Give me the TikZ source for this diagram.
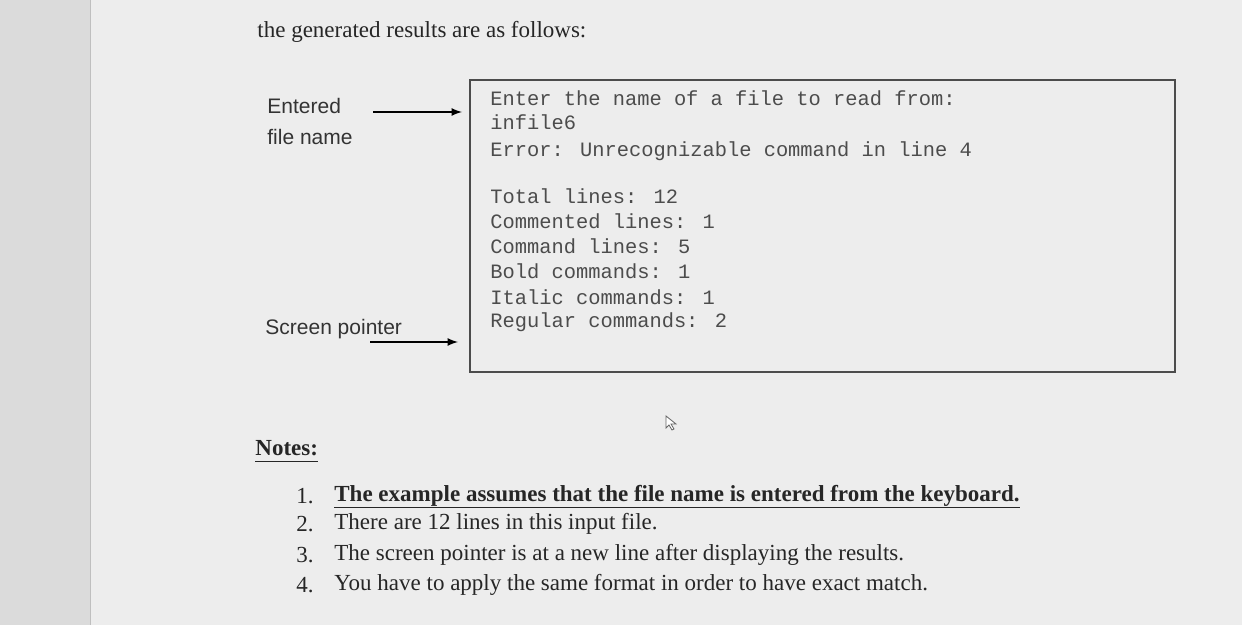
\documentclass[tikz,border=0pt]{standalone}
\usepackage{fontspec}
\setmainfont{Liberation Serif}
\newfontfamily\lsans{Liberation Sans}
\newfontfamily\lmono{Liberation Mono}
\begin{document}
\begin{tikzpicture}[x=0.5pt,y=-0.5pt,
  mono/.style={anchor=west,font=\lmono\fontsize{10.2}{12}\selectfont,text=black!70,inner sep=0},
  lbl/.style={anchor=west,font=\lsans\fontsize{10.5}{12}\selectfont,text=black!80,inner sep=0},
  body/.style={anchor=west,font=\fontsize{11.5}{13}\selectfont,text=black!85,inner sep=0},
  bbody/.style={body,font=\bfseries\fontsize{11.5}{13}\selectfont},
  uline/.style={black!85,line width=0.6pt},
  arr/.style={-latex,thick}]
\useasboundingbox (0,0) rectangle (1242,625);
\fill[white!93!black] (0,0) rectangle (1242,625);
\fill[black!14] (0,0) rectangle (90,625);
\draw[black!25] (90,0) -- (90,625);
\node[body] (title) at (257,32) {the generated results are as follows:};
\coordinate (boxnw) at (470,80); \coordinate (boxse) at (1175,372);
\draw[black!70,thick] (boxnw) rectangle (boxse);
\node[mono] (l1) at (490,98) {Enter the name of a file to read from:};
\node[mono] (l2) at (490,122) {infile6};
\node[mono] (l3) at (490,151) {Error: Unrecognizable command in line 4};
\node[mono] (l4) at (490,196) {Total lines: 12};
\node[mono] (l5) at (490,221) {Commented lines: 1};
\node[mono] (l6) at (490,246) {Command lines: 5};
\node[mono] (l7) at (490,271) {Bold commands: 1};
\node[mono] (l8) at (490,297) {Italic commands: 1};
\node[mono] (l9) at (490,322) {Regular commands: 2};
\node[lbl] (e1) at (267,106) {Entered};
\node[lbl] (e2) at (267,137) {file name};
\node[lbl] (sp) at (265,329) {Screen pointer};
\coordinate (a1) at (373,112); \coordinate (b1) at (462,112);
\coordinate (a2) at (370,342); \coordinate (b2) at (458,342);
\draw[arr] (a1) -- (b1);
\draw[arr] (a2) -- (b2);
\draw[black!60,fill=white] (666,416) -- (666,428) -- (669,425) -- (672,430) -- (674,429) -- (671,424) -- (676,424) -- cycle;
\node[bbody] (notes) at (255,448) {Notes:};
\draw[uline] ([yshift=-3]notes.base west) -- ([yshift=-3]notes.base east);
\node[body] (n1) at (296,496) {1.};
\node[bbody] (t1) at (334,496) {The example assumes that the file name is entered from the keyboard.};
\draw[uline] ([yshift=-3]t1.base west) -- ([yshift=-3]t1.base east);
\node[body] (n2) at (296,524) {2.};
\node[body] (t2) at (334,524) {There are 12 lines in this input file.};
\node[body] (n3) at (296,555) {3.};
\node[body] (t3) at (334,555) {The screen pointer is at a new line after displaying the results.};
\node[body] (n4) at (296,585) {4.};
\node[body] (t4) at (334,585) {You have to apply the same format in order to have exact match.};
\end{tikzpicture}
\end{document}
